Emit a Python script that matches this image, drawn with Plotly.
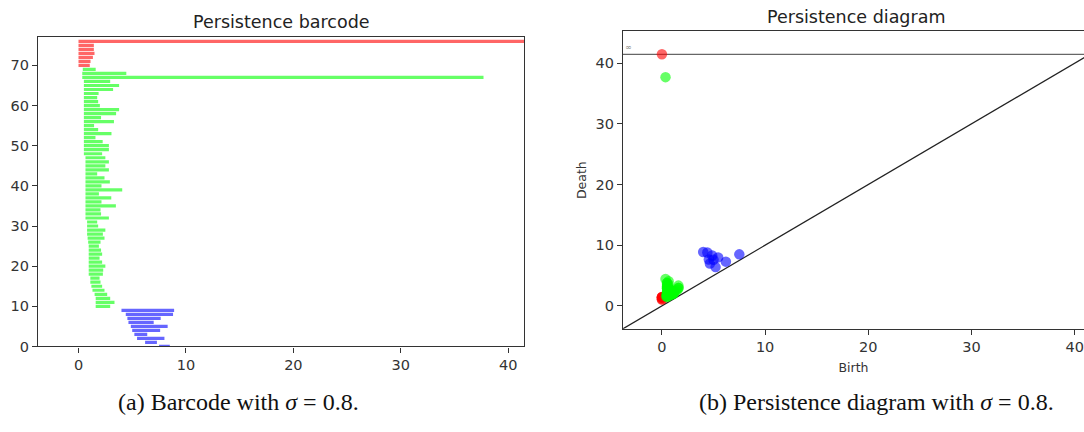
import plotly.graph_objects as go

# Persistence pairs per homology dimension, listed in bar order (bottom to top).
h2_birth = [7.5, 6.2, 5.45, 5.2, 5.0, 4.87, 4.65, 4.55, 4.4, 4.0]
h2_death = [8.5, 7.3, 8.0, 6.4, 7.6, 8.3, 7.0, 7.65, 8.8, 8.9]

h1_birth = [1.6, 1.6, 1.6, 1.5, 1.3, 1.2, 1.1, 1.1, 0.95, 0.95,
            0.95, 0.95, 0.95, 0.95, 0.95, 0.95, 0.9, 0.85, 0.8, 0.8,
            0.8, 0.8, 0.65, 0.65, 0.65, 0.65, 0.65, 0.65, 0.65, 0.65,
            0.65, 0.65, 0.65, 0.65, 0.65, 0.65, 0.65, 0.65, 0.5, 0.5,
            0.5, 0.5, 0.5, 0.5, 0.5, 0.5, 0.5, 0.5, 0.5, 0.5,
            0.5, 0.5, 0.5, 0.5, 0.5, 0.5, 0.5, 0.35, 0.35, 0.4]
h1_death = [2.95, 3.35, 2.95, 2.67, 2.42, 2.2, 2.05, 1.96, 2.27, 2.3,
            2.5, 2.2, 1.96, 2.2, 2.1, 1.9, 2.05, 2.42, 2.27, 2.5,
            1.83, 1.74, 2.83, 2.1, 2.05, 3.48, 2.14, 3.05, 1.9, 4.07,
            2.14, 2.92, 2.42, 1.74, 2.83, 2.5, 2.83, 2.5, 2.2, 2.83,
            2.83, 2.25, 1.58, 3.07, 1.83, 1.45, 3.3, 2.1, 3.5, 3.78,
            1.99, 1.83, 1.74, 1.87, 3.22, 3.78, 2.95, 37.7, 4.45, 1.6]

h0_birth = [0.0, 0.0, 0.0, 0.0, 0.0, 0.0, 0.0]
h0_death = [1.05, 1.12, 1.34, 1.49, 1.43, 1.43, float("inf")]

dims = [(2, h2_birth, h2_death), (1, h1_birth, h1_death), (0, h0_birth, h0_death)]
palette = {0: "rgba(255,0,0,0.6)", 1: "rgba(0,255,0,0.6)", 2: "rgba(0,0,255,0.6)"}

# Axis extents: infinite deaths are drawn at max_death + delta
finite_deaths = [d for _, _, ds in dims for d in ds if d != float("inf")]
all_births = [b for _, bs, _ in dims for b in bs]
max_death = max(finite_deaths)
min_birth = min(all_births)
delta = 0.1 * (max_death - min_birth)
infinity = max_death + delta
axis_start = min_birth - delta

fig = go.Figure()

# ---- barcode ----
idx = 0
for dim, births, deaths in dims:
    ys, bases, lengths = [], [], []
    for b, d in zip(births, deaths):
        d = infinity if d == float("inf") else d
        ys.append(idx)
        bases.append(b)
        lengths.append(d - b)
        idx += 1
    fig.add_trace(go.Bar(
        orientation="h", y=ys, x=lengths, base=bases, width=0.8,
        marker=dict(color=palette[dim], line=dict(width=0)),
        xaxis="x", yaxis="y", showlegend=False, hoverinfo="skip",
    ))
n_bars = idx

# ---- persistence diagram ----
fig.add_trace(go.Scatter(
    x=[axis_start, infinity], y=[axis_start, infinity], mode="lines",
    line=dict(color="#222", width=1.2), xaxis="x2", yaxis="y2",
    showlegend=False, hoverinfo="skip",
))
fig.add_trace(go.Scatter(
    x=[axis_start, infinity], y=[infinity, infinity], mode="lines",
    line=dict(color="rgba(0,0,0,0.6)", width=1.2), xaxis="x2", yaxis="y2",
    showlegend=False, hoverinfo="skip",
))
for dim, births, deaths in reversed(dims):
    fig.add_trace(go.Scatter(
        x=births,
        y=[infinity if d == float("inf") else d for d in deaths],
        mode="markers",
        marker=dict(size=10.5, color=palette[dim], line=dict(width=0)),
        xaxis="x2", yaxis="y2", showlegend=False, hoverinfo="skip",
    ))

W, H = 1084, 432
axis_color = "#333"
tick_font = dict(family="DejaVu Sans", size=14.5, color="#333")
label_font = dict(family="DejaVu Sans", size=12.5, color="#333")


def ax(**kw):
    base = dict(showgrid=False, zeroline=False, showline=True, linecolor=axis_color,
                linewidth=1.2, ticks="outside", ticklen=5, tickcolor=axis_color,
                tickwidth=1, tickfont=tick_font, dtick=10)
    base.update(kw)
    return base


fig.update_layout(
    width=W, height=H, margin=dict(l=0, r=0, t=0, b=0),
    paper_bgcolor="white", plot_bgcolor="white", barmode="overlay",
    xaxis=ax(domain=[38 / W, 524 / W], range=[axis_start, infinity], anchor="y", mirror=True),
    yaxis=ax(domain=[1 - 353 / H, 1 - 38 / H], range=[0, n_bars], anchor="x", mirror=True),
    xaxis2=ax(domain=[623 / W, 1.0], range=[axis_start, 40.9], anchor="y2", mirror=True,
              title=dict(text="Birth", font=label_font, standoff=8)),
    yaxis2=ax(domain=[1 - 335 / H, 1 - 32 / H], range=[axis_start, infinity + delta], anchor="x2",
              title=dict(text="Death", font=label_font, standoff=6)),
)

fig.add_annotation(x=axis_start, y=infinity, xref="x2", yref="y2", text="∞",
                   showarrow=False, xanchor="left", yanchor="bottom",
                   font=dict(family="DejaVu Sans", size=8, color="rgba(0,0,0,0.5)"))

title_font = dict(family="DejaVu Sans", size=17.5, color="#222")
fig.add_annotation(x=281 / W, y=1 - 22 / H, xref="paper", yref="paper", text="Persistence barcode",
                   showarrow=False, xanchor="center", yanchor="middle", font=title_font)
fig.add_annotation(x=856 / W, y=1 - 17 / H, xref="paper", yref="paper", text="Persistence diagram",
                   showarrow=False, xanchor="center", yanchor="middle", font=title_font)

cap_font = dict(family="Liberation Serif", size=24, color="#111")
fig.add_annotation(x=238 / W, y=1 - 410 / H, xref="paper", yref="paper",
                   text="(a) Barcode with <i>σ</i> = 0.8.", showarrow=False,
                   xanchor="center", yanchor="middle", font=cap_font)
fig.add_annotation(x=876 / W, y=1 - 410 / H, xref="paper", yref="paper",
                   text="(b) Persistence diagram with <i>σ</i> = 0.8.", showarrow=False,
                   xanchor="center", yanchor="middle", font=cap_font)

fig.write_html("out.html")
